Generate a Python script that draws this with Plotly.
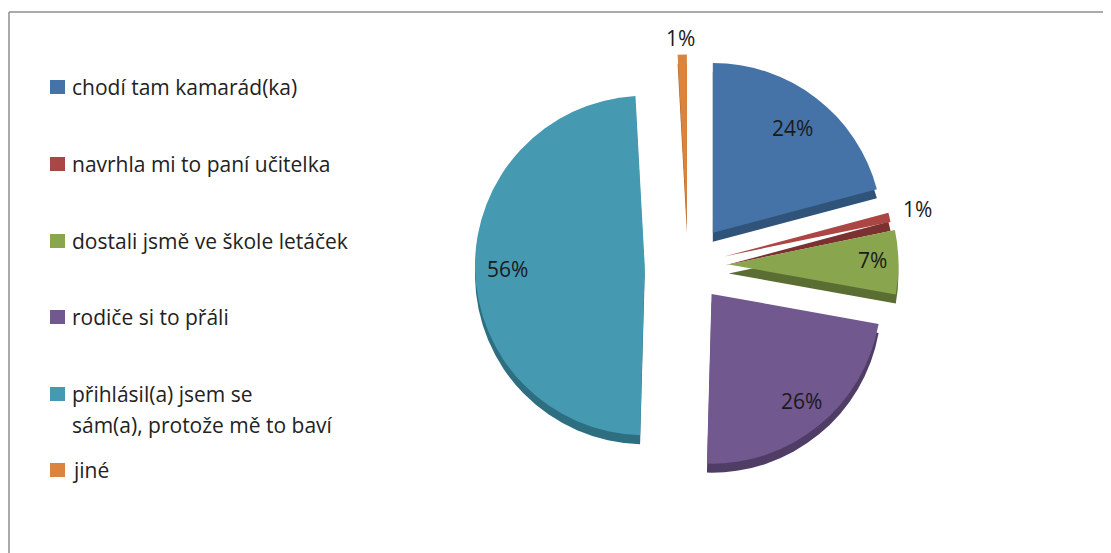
import plotly.graph_objects as go

categories = ["chodí tam kamarád(ka)", "navrhla mi to paní učitelka", "dostali jsmě ve škole letáček",
              "rodiče si to přáli", "přihlásil(a) jsem se<br>sám(a), protože mě to baví", "jiné"]
values = [24, 1, 7, 26, 56, 1]
pulls = [0.24, 0.22, 0.24, 0.22, 0.255, 0.24]
colors = ["#4573A7", "#AA4644", "#89A54E", "#71588F", "#4599B1", "#DB843D"]
dark = ["#2F5379", "#7B3130", "#5A6E33", "#4F3D66", "#2D6E80", "#A5622C"]
legend_y = [87, 164, 241, 317, 394, 470]
label_xy = [(792, 128), (917, 209), (872, 260), (801, 401), (507, 269), (680, 38)]

# The page has an 8px body margin, so page pixels are mapped onto a paper of W x H.
PAGE_X, PAGE_Y = 8, 8
W, H = 1103, 545
def px(x):
    return (x - PAGE_X) / W
def py(y):
    return 1 - (y - PAGE_Y) / H
def dom(x0, x1, y0, y1):
    return dict(x=[px(x0), px(x1)], y=[py(y1), py(y0)])

FONT = "Open Sans, DejaVu Sans"
common = dict(values=values, sort=False, direction="clockwise", rotation=0, pull=pulls,
              textinfo="none", showlegend=False)
fig = go.Figure()
fig.add_trace(go.Pie(domain=dom(475, 901, 61, 487), marker=dict(colors=dark, line=dict(width=0)),
                     hoverinfo="skip", **common))
fig.add_trace(go.Pie(domain=dom(475, 901, 52, 478), marker=dict(colors=colors, line=dict(width=0)),
                     labels=categories, **common))

shapes = [
    dict(type="line", xref="paper", yref="paper", x0=px(9), x1=1, y0=py(12), y1=py(12),
         line=dict(color="#8f8f8f", width=1.5)),
    dict(type="line", xref="paper", yref="paper", x0=px(9), x1=px(9), y0=py(12), y1=0,
         line=dict(color="#8f8f8f", width=1.5)),
]
annotations = []
for c, col, y in zip(categories, colors, legend_y):
    shapes.append(dict(type="rect", xref="paper", yref="paper", x0=px(50), x1=px(65),
                       y0=py(y + 7), y1=py(y - 7), fillcolor=col, line=dict(width=0)))
    for i, line in enumerate(c.split("<br>")):
        annotations.append(dict(x=px(70), y=py(y + 31 * i), xref="paper", yref="paper", text=line,
                                showarrow=False, xanchor="left", yanchor="middle", align="left",
                                font=dict(family=FONT, size=21, color="#222222")))
for v, (x, y) in zip(values, label_xy):
    annotations.append(dict(x=px(x), y=py(y), xref="paper", yref="paper", text=f"{v}%", showarrow=False,
                            xanchor="center", yanchor="middle",
                            font=dict(family=FONT, size=21, color="#1a1a1a")))

fig.update_layout(width=W, height=H, margin=dict(l=0, r=0, t=0, b=0, autoexpand=False), showlegend=False,
                  paper_bgcolor="white", shapes=shapes, annotations=annotations)
fig.write_html("out.html")
